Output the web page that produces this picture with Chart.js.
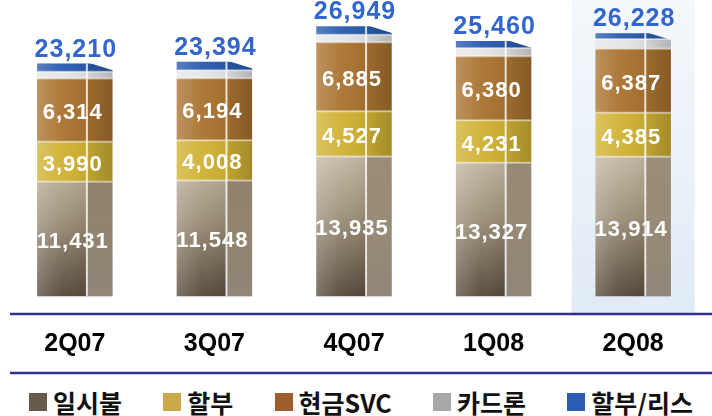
<!DOCTYPE html>
<html>
<head>
<meta charset="utf-8">
<script src="https://cdn.jsdelivr.net/npm/chart.js@4"></script>
<style>
  body { margin: 0; background: #fff; }
  #wrap { position: relative; width: 712px; height: 376px; }
  #legend { width: 712px; height: 40px; box-sizing: border-box; padding: 12px 19px 0 29px;
            display: flex; justify-content: space-between; align-items: center;
            font-family: "Noto Sans CJK KR", sans-serif; font-weight: bold; font-size: 25px; color: #111; }
  #legend .item { display: flex; align-items: center; line-height: 22px; }
  #legend .box { width: 18px; height: 18px; margin-right: 6px; }
</style>
</head>
<body>
<div id="wrap"><canvas id="myChart" width="712" height="376"></canvas></div>
<div id="legend"></div>
<script>
// data
const categories = ['2Q07', '3Q07', '4Q07', '1Q08', '2Q08'];
const seriesNames = ['일시불', '할부', '현금SVC', '카드론', '할부/리스'];
const ilsibul = [11431, 11548, 13935, 13327, 13914];
const halbu = [3990, 4008, 4527, 4231, 4385];
const cashSvc = [6314, 6194, 6885, 6380, 6387];
const cardLoan = [675, 794, 752, 822, 992];
const lease = [800, 850, 850, 700, 550];
const totals = [23210, 23394, 26949, 25460, 26228];

const barColors = ['#8a7c68', '#d0b234', '#aa7431', '#e4e6e8', '#2b5cae'];
const legendColors = ['#675a4b', '#c9a94a', '#9c5f2c', '#a8a8a8', '#2c5db4'];
const highlightIndex = 4;
var highlightFill = null;

const fmt = function (v) { return v.toLocaleString('en-US'); };

// bottom segment gets a light-top / dark-bottom shading
const ilsibulFill = function (context) {
  const chart = context.chart;
  if (!chart.chartArea) return barColors[0];
  const y = chart.scales.y;
  const g = chart.ctx.createLinearGradient(0, y.getPixelForValue(14000), 0, y.getPixelForValue(0));
  g.addColorStop(0, '#c4baa4');
  g.addColorStop(0.45, '#9c8f78');
  g.addColorStop(1, '#56493b');
  return g;
};

const deco = {
  id: 'deco',
  beforeDatasetsDraw: function (chart) {
    const ctx = chart.ctx;
    const x = chart.scales.x;
    const step = x.getPixelForValue(1) - x.getPixelForValue(0);
    const cx = x.getPixelForValue(highlightIndex);
    const bottom = chart.chartArea.bottom;
    const g = ctx.createLinearGradient(0, 0, 0, bottom);
    g.addColorStop(0, '#f4f8fc');
    g.addColorStop(1, '#e1ebf5');
    highlightFill = g;
    ctx.save();
    ctx.fillStyle = g;
    ctx.fillRect(cx - step * 0.44, 0, step * 0.88, bottom);
    ctx.restore();
  },
  afterDatasetsDraw: function (chart) {
    const ctx = chart.ctx;
    const nSets = chart.data.datasets.length;
    ctx.save();

    // 3D look: lit front face, darker side face, white edge
    for (let d = 0; d < nSets; d++) {
      const meta = chart.getDatasetMeta(d);
      meta.data.forEach(function (el, i) {
        const p = el.getProps(['x', 'y', 'base', 'width'], true);
        const left = p.x - p.width / 2, right = p.x + p.width / 2;
        const edge = left + p.width * 0.66;
        const h = p.base - p.y;

        let g = ctx.createLinearGradient(left, 0, edge, 0);
        g.addColorStop(0, 'rgba(255,255,255,0.22)');
        g.addColorStop(0.5, 'rgba(255,255,255,0.04)');
        g.addColorStop(1, 'rgba(0,0,0,0.06)');
        ctx.fillStyle = g;
        ctx.fillRect(left, p.y, edge - left, h);

        if (d === 0) {
          g = ctx.createLinearGradient(0, p.y, 0, p.base);
          g.addColorStop(0, 'rgba(60,40,20,0.30)');
          g.addColorStop(1, 'rgba(255,250,235,0.35)');
        } else {
          g = ctx.createLinearGradient(edge, 0, right, 0);
          g.addColorStop(0, 'rgba(0,0,0,0.08)');
          g.addColorStop(1, 'rgba(0,0,0,0.22)');
        }
        ctx.fillStyle = g;
        ctx.fillRect(edge, p.y, right - edge, h);

        if (d > 0) {
          ctx.strokeStyle = 'rgba(255,255,255,0.45)';
          ctx.lineWidth = 2;
          ctx.beginPath();
          ctx.moveTo(left, p.base);
          ctx.lineTo(right, p.base);
          ctx.stroke();
        }

        ctx.strokeStyle = 'rgba(255,255,255,0.8)';
        ctx.lineWidth = 2;
        ctx.beginPath();
        ctx.moveTo(edge, p.y);
        ctx.lineTo(edge, p.base);
        ctx.stroke();

        // slanted top of the side face
        if (d === nSets - 1) {
          ctx.fillStyle = i === highlightIndex ? highlightFill : '#ffffff';
          ctx.beginPath();
          ctx.moveTo(edge + 1, p.y - 1);
          ctx.lineTo(right + 1, p.y - 1);
          ctx.lineTo(right + 1, p.y + 7);
          ctx.closePath();
          ctx.fill();
        }
      });
    }

    // values inside the three big segments
    ctx.textAlign = 'center';
    ctx.textBaseline = 'middle';
    ctx.fillStyle = '#ffffff';
    ctx.font = 'bold 22px "Liberation Sans", Arial, sans-serif';
    ctx.letterSpacing = '1px';
    for (let d = 0; d < 3; d++) {
      const meta = chart.getDatasetMeta(d);
      const vals = chart.data.datasets[d].data;
      meta.data.forEach(function (el, i) {
        const p = el.getProps(['x', 'y', 'base'], true);
        ctx.fillText(fmt(vals[i]), p.x - 2, (p.y + p.base) / 2 + 3);
      });
    }

    // totals above each bar
    ctx.fillStyle = '#3366cc';
    ctx.font = 'bold 25px "Liberation Sans", Arial, sans-serif';
    ctx.textBaseline = 'alphabetic';
    const topMeta = chart.getDatasetMeta(nSets - 1);
    topMeta.data.forEach(function (el, i) {
      const p = el.getProps(['x', 'y'], true);
      ctx.fillText(fmt(totals[i]), p.x + 1, p.y - 7);
    });
    ctx.letterSpacing = '0px';

    // navy rules above and below the category labels
    ctx.strokeStyle = '#2e3192';
    ctx.lineWidth = 2.5;
    ctx.beginPath();
    ctx.moveTo(10, chart.chartArea.bottom);
    ctx.lineTo(chart.width, chart.chartArea.bottom);
    ctx.moveTo(10, chart.height - 3);
    ctx.lineTo(chart.width, chart.height - 3);
    ctx.stroke();
    ctx.restore();
  }
};

const seriesData = [ilsibul, halbu, cashSvc, cardLoan, lease];
const datasets = seriesData.map(function (vals, k) {
  return {
    label: seriesNames[k],
    data: vals,
    backgroundColor: k === 0 ? ilsibulFill : barColors[k],
    borderWidth: 0,
    barPercentage: 0.54,
    categoryPercentage: 1.0
  };
});

const myChart = new Chart(document.getElementById('myChart').getContext('2d'), {
  type: 'bar',
  data: { labels: categories, datasets: datasets },
  options: {
    responsive: false,
    animation: false,
    devicePixelRatio: 1,
    layout: { padding: { left: 5, right: 9, top: 0, bottom: 2 } },
    plugins: { legend: { display: false }, tooltip: { enabled: false } },
    scales: {
      x: {
        stacked: true,
        grid: { display: false, drawTicks: false },
        border: { display: false },
        ticks: {
          color: '#000',
          padding: 15,
          font: { family: '"Liberation Sans", Arial, sans-serif', size: 25, weight: 'bold' }
        }
      },
      y: { stacked: true, display: false, min: -1773, max: 29557 }
    }
  },
  plugins: [deco]
});

// legend below the chart
const legendDiv = document.getElementById('legend');
seriesNames.forEach(function (name, k) {
  const html = `<div class="item"><span class="box" style="background:${legendColors[k]}"></span><span>${name}</span></div>`;
  legendDiv.insertAdjacentHTML('beforeend', html);
});
</script>
</body>
</html>
